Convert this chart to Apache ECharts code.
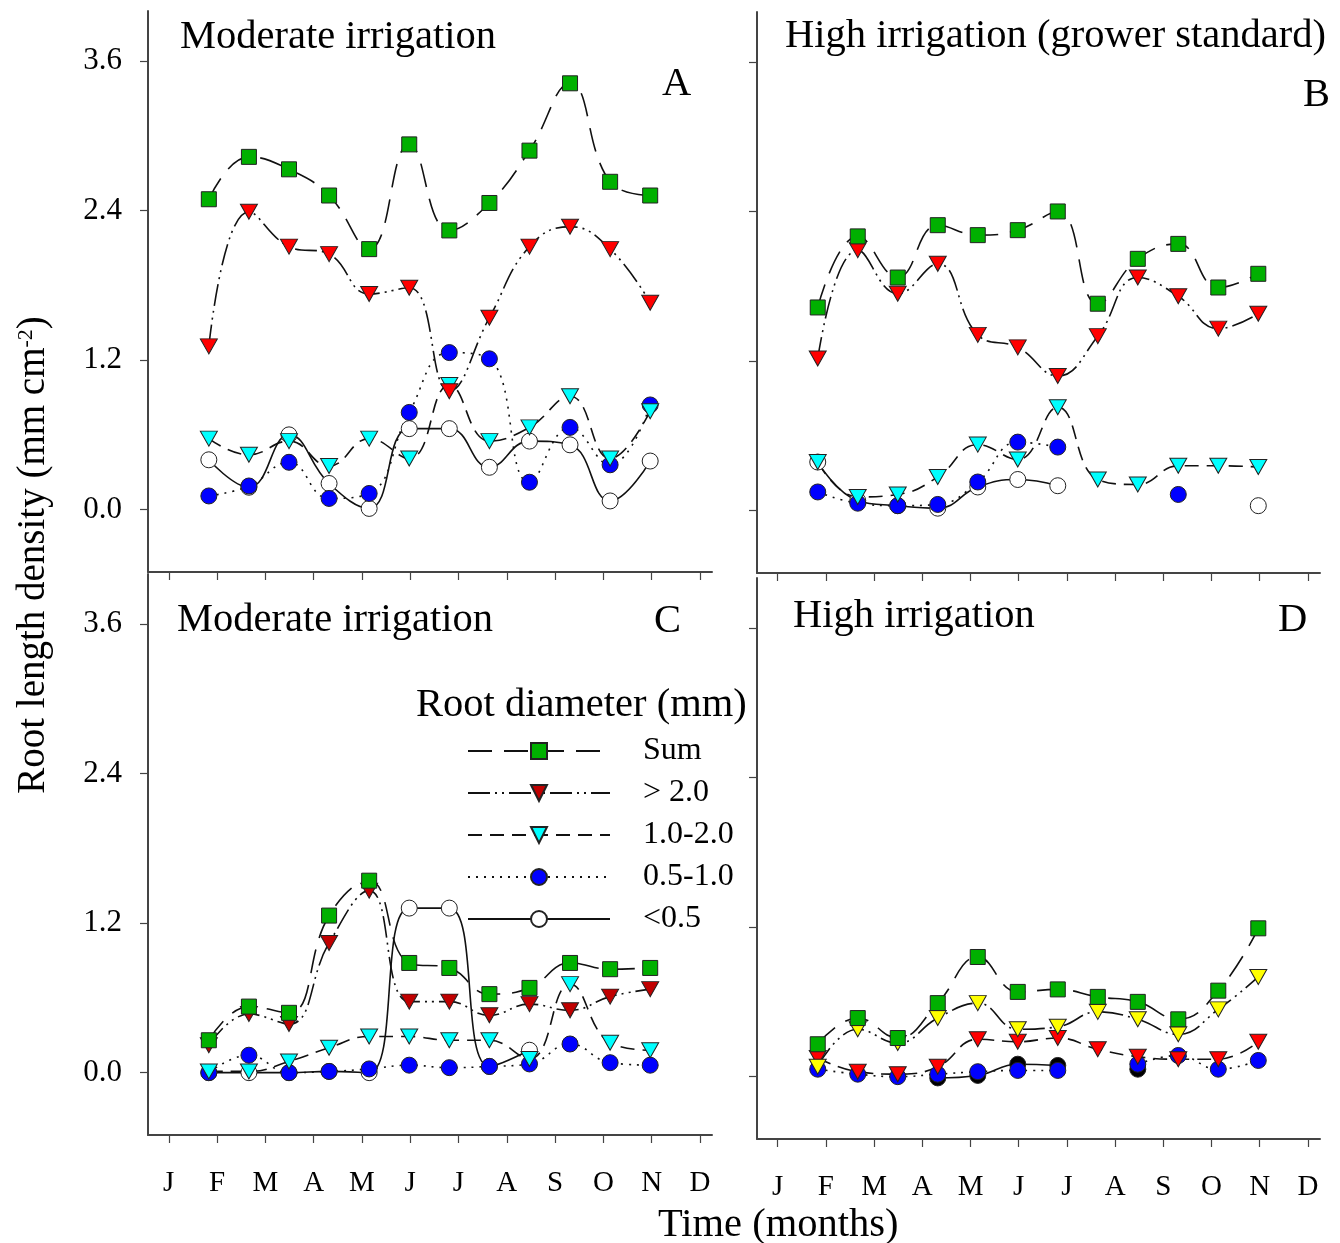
<!DOCTYPE html>
<html>
<head>
<meta charset="utf-8">
<title>Root length density</title>
<script src="https://cdn.jsdelivr.net/npm/echarts@6/dist/echarts.min.js"></script>
<style>
  html, body { margin: 0; padding: 0; background: #fff; }
  #chart { width: 1340px; height: 1243px; }
</style>
</head>
<body>
<div id="chart"></div>
<script>
// sampling dates, in months counted from the J tick (J = 0 ... D = 11)
var months = [0.83, 1.66, 2.49, 3.32, 4.15, 4.98, 5.81, 6.64, 7.47, 8.31, 9.14, 9.97];
var monthLabels = ['J', 'F', 'M', 'A', 'M', 'J', 'J', 'A', 'S', 'O', 'N', 'D'];
var monthTicks = [0, 1, 2, 3, 4, 5, 6, 7, 8, 9, 10, 11];
var yTicks = [0, 1.2, 2.4, 3.6];

// A - moderate irrigation
var aSum   = [2.49, 2.83, 2.73, 2.52, 2.09, 2.93, 2.24, 2.46, 2.88, 3.42, 2.63, 2.52];
var aGt2   = [1.31, 2.39, 2.11, 2.05, 1.73, 1.78, 0.95, 1.54, 2.11, 2.27, 2.09, 1.66];
var a1to2  = [0.57, 0.44, 0.55, 0.35, 0.57, 0.41, 1.00, 0.55, 0.66, 0.91, 0.41, 0.79];
var a05to1 = [0.11, 0.19, 0.38, 0.09, 0.13, 0.78, 1.26, 1.21, 0.22, 0.66, 0.36, 0.84];
var aLt05  = [0.40, 0.18, 0.60, 0.21, 0.01, 0.65, 0.65, 0.34, 0.55, 0.52, 0.07, 0.39];

// B - high irrigation (grower standard)
var bSum   = [1.63, 2.20, 1.87, 2.29, 2.21, 2.25, 2.40, 1.66, 2.02, 2.14, 1.79, 1.90];
var bGt2   = [1.22, 2.09, 1.74, 1.98, 1.41, 1.31, 1.08, 1.40, 1.87, 1.72, 1.46, 1.58];
var b1to2  = [0.39, 0.11, 0.13, 0.27, 0.53, 0.41, 0.83, 0.25, 0.21, 0.36, 0.36, 0.35];
var b05to1 = [0.15, 0.06, 0.04, 0.05, 0.23, 0.55, 0.51, null, null, 0.13, null, null];
var bLt05  = [0.39, 0.08, 0.04, 0.02, 0.19, 0.25, 0.20, null, null, null, null, 0.04];

// C - moderate irrigation
var cSum   = [0.26, 0.53, 0.48, 1.26, 1.54, 0.88, 0.84, 0.63, 0.68, 0.88, 0.83, 0.84];
var cGt2   = [0.22, 0.47, 0.39, 1.04, 1.46, 0.57, 0.57, 0.46, 0.55, 0.50, 0.61, 0.67];
var c1to2  = [0.01, 0.01, 0.09, 0.20, 0.29, 0.29, 0.26, 0.26, 0.11, 0.71, 0.24, 0.18];
var c05to1 = [0.00, 0.14, 0.00, 0.01, 0.03, 0.06, 0.04, 0.05, 0.07, 0.23, 0.08, 0.06];
var cLt05  = [0.00, 0.00, 0.00, 0.01, 0.00, 1.32, 1.32, 0.05, 0.18, null, null, null];

// D - high irrigation
var dSum    = [0.26, 0.47, 0.31, 0.59, 0.96, 0.68, 0.70, 0.64, 0.60, 0.46, 0.69, 1.19];
var dYellow = [0.08, 0.38, 0.27, 0.47, 0.59, 0.38, 0.40, 0.52, 0.46, 0.34, 0.54, 0.80];
var dRed    = [0.15, 0.04, 0.02, 0.08, 0.30, 0.28, 0.31, 0.22, 0.16, 0.14, 0.14, 0.28];
var dBlue   = [0.06, 0.02, 0.00, 0.02, 0.04, 0.05, 0.05, null, 0.10, 0.17, 0.06, 0.13];
var dBlack  = [null, null, null, -0.01, 0.01, 0.10, 0.09, null, 0.06, null, null, null];

var FONT = 'Liberation Serif';

// dash patterns of the five size classes
var dashSum = [24, 12];
var dashGt2 = [22, 5, 2, 5, 2, 5];
var dashMid = [14, 8];
var dashFine = [2, 6];

function pts(ys) {
  return ys.map(function (v, i) { return [months[i], v == null ? '-' : v]; });
}

function mk(name, gi, ys, symbol, fill, dash) {
  var tri = symbol === 'triangle';
  return {
    name: name,
    type: 'line',
    xAxisIndex: gi,
    yAxisIndex: gi,
    data: pts(ys),
    smooth: 0.45,
    symbol: symbol,
    symbolSize: tri ? [17, 15] : (symbol === 'rect' ? 15 : 16),
    symbolRotate: tri ? 180 : 0,
    showSymbol: true,
    lineStyle: { color: '#111', width: 1.6, type: dash },
    itemStyle: { color: fill, borderColor: '#222', borderWidth: 1 },
    emphasis: { disabled: true },
    silent: true
  };
}

var grids = [
  { left: 148, top: 11, width: 564, height: 561 },   // A
  { left: 757, top: 12, width: 563, height: 561 },   // B
  { left: 148, top: 574, width: 564, height: 561 },  // C
  { left: 757, top: 578, width: 563, height: 561 }   // D
];

function xAx(gi, labels) {
  return {
    type: 'value', gridIndex: gi, min: -0.43, max: 11.25,
    axisLine: { onZero: false, lineStyle: { color: '#444', width: 2 } },
    axisTick: { show: true, customValues: monthTicks, length: 8, lineStyle: { color: '#444', width: 1.2 } },
    axisLabel: {
      show: labels, customValues: monthTicks, margin: 34,
      fontFamily: FONT, fontSize: 29, color: '#000',
      formatter: function (v) { return monthLabels[Math.round(v)]; }
    },
    splitLine: { show: false }
  };
}

function yAx(gi, labels) {
  return {
    type: 'value', gridIndex: gi, min: -0.5, max: 4.0,
    axisLine: { show: true, onZero: false, lineStyle: { color: '#444', width: 2 } },
    axisTick: { show: true, customValues: yTicks, length: 8, lineStyle: { color: '#444', width: 1.2 } },
    axisLabel: {
      show: labels, customValues: yTicks, margin: 26,
      fontFamily: FONT, fontSize: 31, color: '#000',
      formatter: function (v) { return v.toFixed(1); }
    },
    splitLine: { show: false }
  };
}

function ttl(text, left, top, size) {
  return { text: text, left: left, top: top, padding: 0,
    textStyle: { fontFamily: FONT, fontSize: size || 40.5, fontWeight: 'normal', color: '#000' } };
}

var chart = echarts.init(document.getElementById('chart'));

chart.setOption({
  animation: false,
  backgroundColor: '#fff',
  title: [
    ttl('Moderate irrigation', 180, 17),
    ttl('A', 662, 64),
    ttl('High irrigation (grower standard)', 785, 16),
    ttl('B', 1303, 75),
    ttl('Moderate irrigation', 177, 600),
    ttl('C', 654, 601),
    ttl('High irrigation', 793, 596),
    ttl('D', 1278, 600),
    ttl('Root diameter (mm)', 416, 685),
    ttl('Time (months)', 658, 1205)
  ],
  graphic: [{
    type: 'text',
    x: 34, y: 555,
    rotation: Math.PI / 2,
    style: {
      text: 'Root length density (mm cm{sup|-2})',
      fontFamily: FONT, fontSize: 39, fill: '#000',
      align: 'center', verticalAlign: 'middle',
      rich: { sup: { fontFamily: FONT, fontSize: 22, fill: '#000', padding: [0, 0, 16, 0] } }
    }
  }],
  legend: {
    orient: 'vertical',
    left: 462, top: 730,
    itemWidth: 142, itemHeight: 20, itemGap: 10,
    selectedMode: false,
    textStyle: { fontFamily: FONT, fontSize: 32, color: '#000', lineHeight: 32, padding: [0, 0, 0, 28] },
    data: [
      { name: 'Sum' },
      { name: '> 2.0', itemStyle: { color: '#c00000' } },
      { name: '1.0-2.0' },
      { name: '0.5-1.0' },
      { name: '<0.5' }
    ]
  },
  grid: grids,
  xAxis: [xAx(0, false), xAx(1, false), xAx(2, true), xAx(3, true)],
  yAxis: [yAx(0, true), yAx(1, false), yAx(2, true), yAx(3, false)],
  series: [
    // C first so the legend takes its icons from this panel
    mk('<0.5', 2, cLt05, 'circle', '#ffffff', 'solid'),
    mk('0.5-1.0', 2, c05to1, 'circle', '#0000ff', dashFine),
    mk('1.0-2.0', 2, c1to2, 'triangle', '#00ffff', dashMid),
    mk('> 2.0', 2, cGt2, 'triangle', '#c00000', dashGt2),
    mk('Sum', 2, cSum, 'rect', '#00b000', dashSum),

    mk('A <0.5', 0, aLt05, 'circle', '#ffffff', 'solid'),
    mk('A 0.5-1.0', 0, a05to1, 'circle', '#0000ff', dashFine),
    mk('A 1.0-2.0', 0, a1to2, 'triangle', '#00ffff', dashMid),
    mk('A > 2.0', 0, aGt2, 'triangle', '#ff0000', dashGt2),
    mk('A Sum', 0, aSum, 'rect', '#00b000', dashSum),

    mk('B <0.5', 1, bLt05, 'circle', '#ffffff', 'solid'),
    mk('B 0.5-1.0', 1, b05to1, 'circle', '#0000ff', dashFine),
    mk('B 1.0-2.0', 1, b1to2, 'triangle', '#00ffff', dashMid),
    mk('B > 2.0', 1, bGt2, 'triangle', '#ff0000', dashGt2),
    mk('B Sum', 1, bSum, 'rect', '#00b000', dashSum),

    mk('D black', 3, dBlack, 'circle', '#000000', 'solid'),
    mk('D blue', 3, dBlue, 'circle', '#0000ff', dashFine),
    mk('D red', 3, dRed, 'triangle', '#ff0000', dashMid),
    mk('D yellow', 3, dYellow, 'triangle', '#ffff00', dashGt2),
    mk('D Sum', 3, dSum, 'rect', '#00b000', dashSum)
  ]
});
</script>
</body>
</html>
